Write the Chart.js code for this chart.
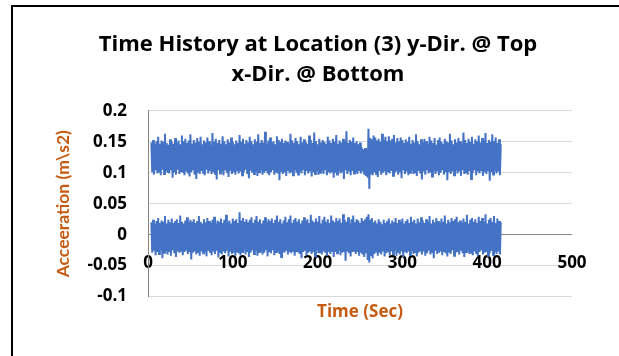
<!DOCTYPE html>
<html>
<head>
<meta charset="utf-8">
<script src="https://cdn.jsdelivr.net/npm/chart.js@4.4.1/dist/chart.umd.min.js"></script>
<style>
  html, body { margin: 0; padding: 0; background: #fff; }
  #wrap { position: relative; width: 619px; height: 356px; overflow: hidden; }
  #frame { position: absolute; left: 11px; top: 5px; width: 700px; height: 500px;
           border-left: 2px solid #000; border-top: 2px solid #000; pointer-events: none; }
</style>
</head>
<body>
<div id="wrap">
  <canvas id="timeHistory" width="619" height="356"></canvas>
  <div id="frame"></div>
</div>
<script>
// sampling: one reading per second starting at t0
const t0 = 4;
const dt = 1;

// acceleration readings in 0.001 m/s2
const yDirTop = [
  149,101,153,97,146,104,151,99,158,102,147,96,152,105,150,98,163,103,148,100,
  145,99,154,104,150,92,147,101,156,97,149,105,152,98,146,103,160,100,151,96,
  155,102,148,99,152,94,162,101,147,104,153,97,149,90,156,102,150,98,158,103,
  146,100,152,96,149,105,157,99,151,103,145,98,164,101,150,97,155,89,148,104,
  153,99,147,102,159,96,151,104,146,100,154,93,149,103,157,98,150,101,146,97,
  152,104,148,99,161,102,150,96,155,101,147,105,153,98,149,91,158,103,151,100,
  146,98,154,102,150,95,162,101,148,104,153,97,149,100,166,103,147,99,152,96,
  157,101,149,104,151,97,146,102,159,99,153,88,150,103,155,98,148,101,152,95,
  150,103,147,99,163,101,152,96,148,104,156,100,151,97,146,102,158,99,149,104,
  154,96,150,103,147,99,160,102,153,94,148,101,165,98,151,103,146,97,155,100,
  149,102,153,98,150,104,147,96,158,101,152,99,148,103,155,92,150,100,161,97,
  147,103,152,99,149,101,155,90,151,104,167,98,148,102,153,96,150,103,157,99,
  148,101,151,98,146,103,149,99,141,102,138,97,140,95,137,92,171,74,156,99,
  154,96,160,101,157,98,152,93,155,103,150,97,163,100,153,102,158,96,151,101,
  159,99,152,103,155,95,161,100,149,102,156,97,151,101,157,91,153,104,148,98,
  154,102,150,96,158,100,147,104,153,98,149,101,162,95,151,103,146,99,154,89,
  149,102,155,97,151,104,147,99,158,101,152,94,148,103,156,98,145,102,153,96,
  157,100,150,104,147,97,155,101,151,88,149,103,163,98,152,102,146,96,154,104,
  149,99,156,102,151,95,147,104,165,98,153,101,148,97,155,103,150,90,158,100,
  147,104,154,96,151,102,160,99,149,103,156,95,152,101,164,98,148,104,153,87,
  150,101,162,97,151,103,157,99,148,102,154,96,146
];

const xDirBottom = [
  20,-29,24,-26,17,-33,22,-28,27,-31,19,-25,23,-38,21,-29,30,-27,18,-32,
  24,-28,20,-34,26,-25,19,-30,22,-36,25,-27,19,-29,31,-26,21,-33,18,-28,
  23,-26,28,-31,20,-28,24,-40,21,-29,25,-27,19,-32,22,-28,30,-34,21,-27,
  18,-30,25,-28,20,-35,27,-26,22,-29,19,-33,24,-27,29,-31,18,-26,23,-37,
  21,-28,26,-32,19,-27,24,-30,32,-26,20,-35,23,-28,18,-31,26,-29,22,-34,
  25,-27,19,-30,36,-33,23,-28,27,-26,21,-32,25,-28,20,-36,24,-29,28,-25,
  19,-31,24,-26,30,-34,21,-28,25,-27,18,-32,23,-29,28,-25,20,-35,25,-28,
  22,-30,26,-25,19,-33,24,-28,31,-27,21,-31,25,-36,18,-28,23,-29,29,-26,
  20,-32,25,-28,31,-30,19,-26,24,-34,27,-28,21,-27,25,-31,18,-38,23,-28,
  28,-26,22,-33,25,-29,19,-27,32,-31,23,-28,20,-35,26,-25,21,-30,30,-28,
  18,-32,24,-27,29,-29,21,-34,25,-28,19,-31,31,-26,23,-36,20,-28,27,-30,
  22,-25,26,-33,19,-29,33,-28,24,-42,21,-27,28,-30,18,-35,25,-28,31,-26,
  20,-31,25,-28,23,-34,19,-29,27,-32,22,-36,25,-30,29,-41,33,-45,24,-33,
  27,-38,20,-31,23,-27,18,-34,25,-29,21,-32,17,-27,24,-35,19,-30,22,-28,
  26,-33,18,-27,23,-31,20,-26,27,-34,19,-29,24,-32,21,-27,26,-36,18,-28,
  22,-30,25,-27,19,-33,29,-26,21,-31,24,-28,18,-35,26,-29,20,-27,28,-32,
  23,-27,19,-34,25,-30,21,-26,30,-32,18,-28,24,-38,20,-26,27,-31,22,-29,
  19,-27,26,-33,21,-28,31,-30,18,-35,24,-27,20,-31,27,-25,22,-34,25,-29,
  29,-28,20,-32,23,-26,19,-30,26,-36,21,-28,32,-27,18,-31,24,-29,27,-33,
  21,-27,25,-31,19,-35,29,-28,22,-25,27,-32,20,-29,33,-28,18,-34,24,-30,
  27,-26,21,-33,30,-28,19,-31,26,-27,22,-32,20
];

const titleLines = ['Time History at Location (3) y-Dir. @ Top', 'x-Dir. @ Bottom'];
const xTitle = 'Time (Sec)';
const yTitle = 'Acceeration (m\\s2)';
const xTicks = [0, 100, 200, 300, 400, 500];
const yTicks = [-0.1, -0.05, 0, 0.05, 0.1, 0.15, 0.2];

const blue = '#4472C4';
const orange = '#C55A11';
const wideFont = '"Open Sans", Lato, sans-serif';
const narrowFont = 'Lato, "Open Sans", sans-serif';

function toPoints(arr) {
  return arr.map((v, i) => ({ x: t0 + i * dt, y: v / 1000 }));
}

const ctx = document.getElementById('timeHistory').getContext('2d');
new Chart(ctx, {
  type: 'line',
  data: {
    datasets: [
      { label: 'y-Dir.', data: toPoints(yDirTop), borderColor: blue, borderWidth: 2, pointRadius: 0, tension: 0 },
      { label: 'x-Dir.', data: toPoints(xDirBottom), borderColor: blue, borderWidth: 2, pointRadius: 0, tension: 0 }
    ]
  },
  options: {
    responsive: false,
    animation: false,
    layout: { padding: { left: 17, right: 0, top: 0, bottom: 34 } },
    plugins: {
      legend: { display: false },
      tooltip: { enabled: false },
      title: {
        display: true,
        text: titleLines,
        color: '#000',
        font: { family: wideFont, size: 22, weight: 'bold', lineHeight: 1.36 },
        padding: { top: 30, bottom: 21 }
      },
      subtitle: {
        display: true,
        position: 'bottom',
        fullSize: false,
        text: xTitle,
        color: orange,
        font: { family: wideFont, size: 17, weight: 'bold', lineHeight: 1.2 },
        padding: { top: 5, bottom: 0 }
      }
    },
    scales: {
      x: {
        type: 'linear',
        position: { y: 0 },
        min: 0,
        max: 500,
        z: 1,
        afterBuildTicks: s => { s.ticks = xTicks.map(v => ({ value: v })); },
        grid: { display: false, drawTicks: false },
        border: { display: false },
        ticks: {
          autoSkip: false,
          maxRotation: 0,
          padding: 18,
          color: '#000',
          font: { family: wideFont, size: 17, weight: 'bold' }
        }
      },
      y: {
        position: 'left',
        min: -0.1,
        max: 0.2,
        afterBuildTicks: s => { s.ticks = yTicks.map(v => ({ value: v })); },
        afterFit: s => { s.width = 131; },
        grid: {
          drawTicks: false,
          color: c => (c.tick && c.tick.value === 0 ? '#868686' : '#d9d9d9')
        },
        border: { display: true, color: '#868686' },
        title: {
          display: true,
          text: yTitle,
          color: orange,
          font: { family: narrowFont, size: 17.5, weight: 'bold', lineHeight: 1.2 },
          padding: { top: 36, bottom: 0 }
        },
        ticks: {
          padding: 21,
          color: '#000',
          font: { family: wideFont, size: 17, weight: 'bold' },
          callback: v => String(+Number(v).toFixed(2))
        }
      },
      // empty strip on the right of the plot
      yRight: {
        position: 'right',
        display: true,
        afterFit: s => { s.width = 47; },
        grid: { display: false, drawTicks: false },
        border: { display: false },
        ticks: { display: false }
      }
    }
  }
});
</script>
</body>
</html>
